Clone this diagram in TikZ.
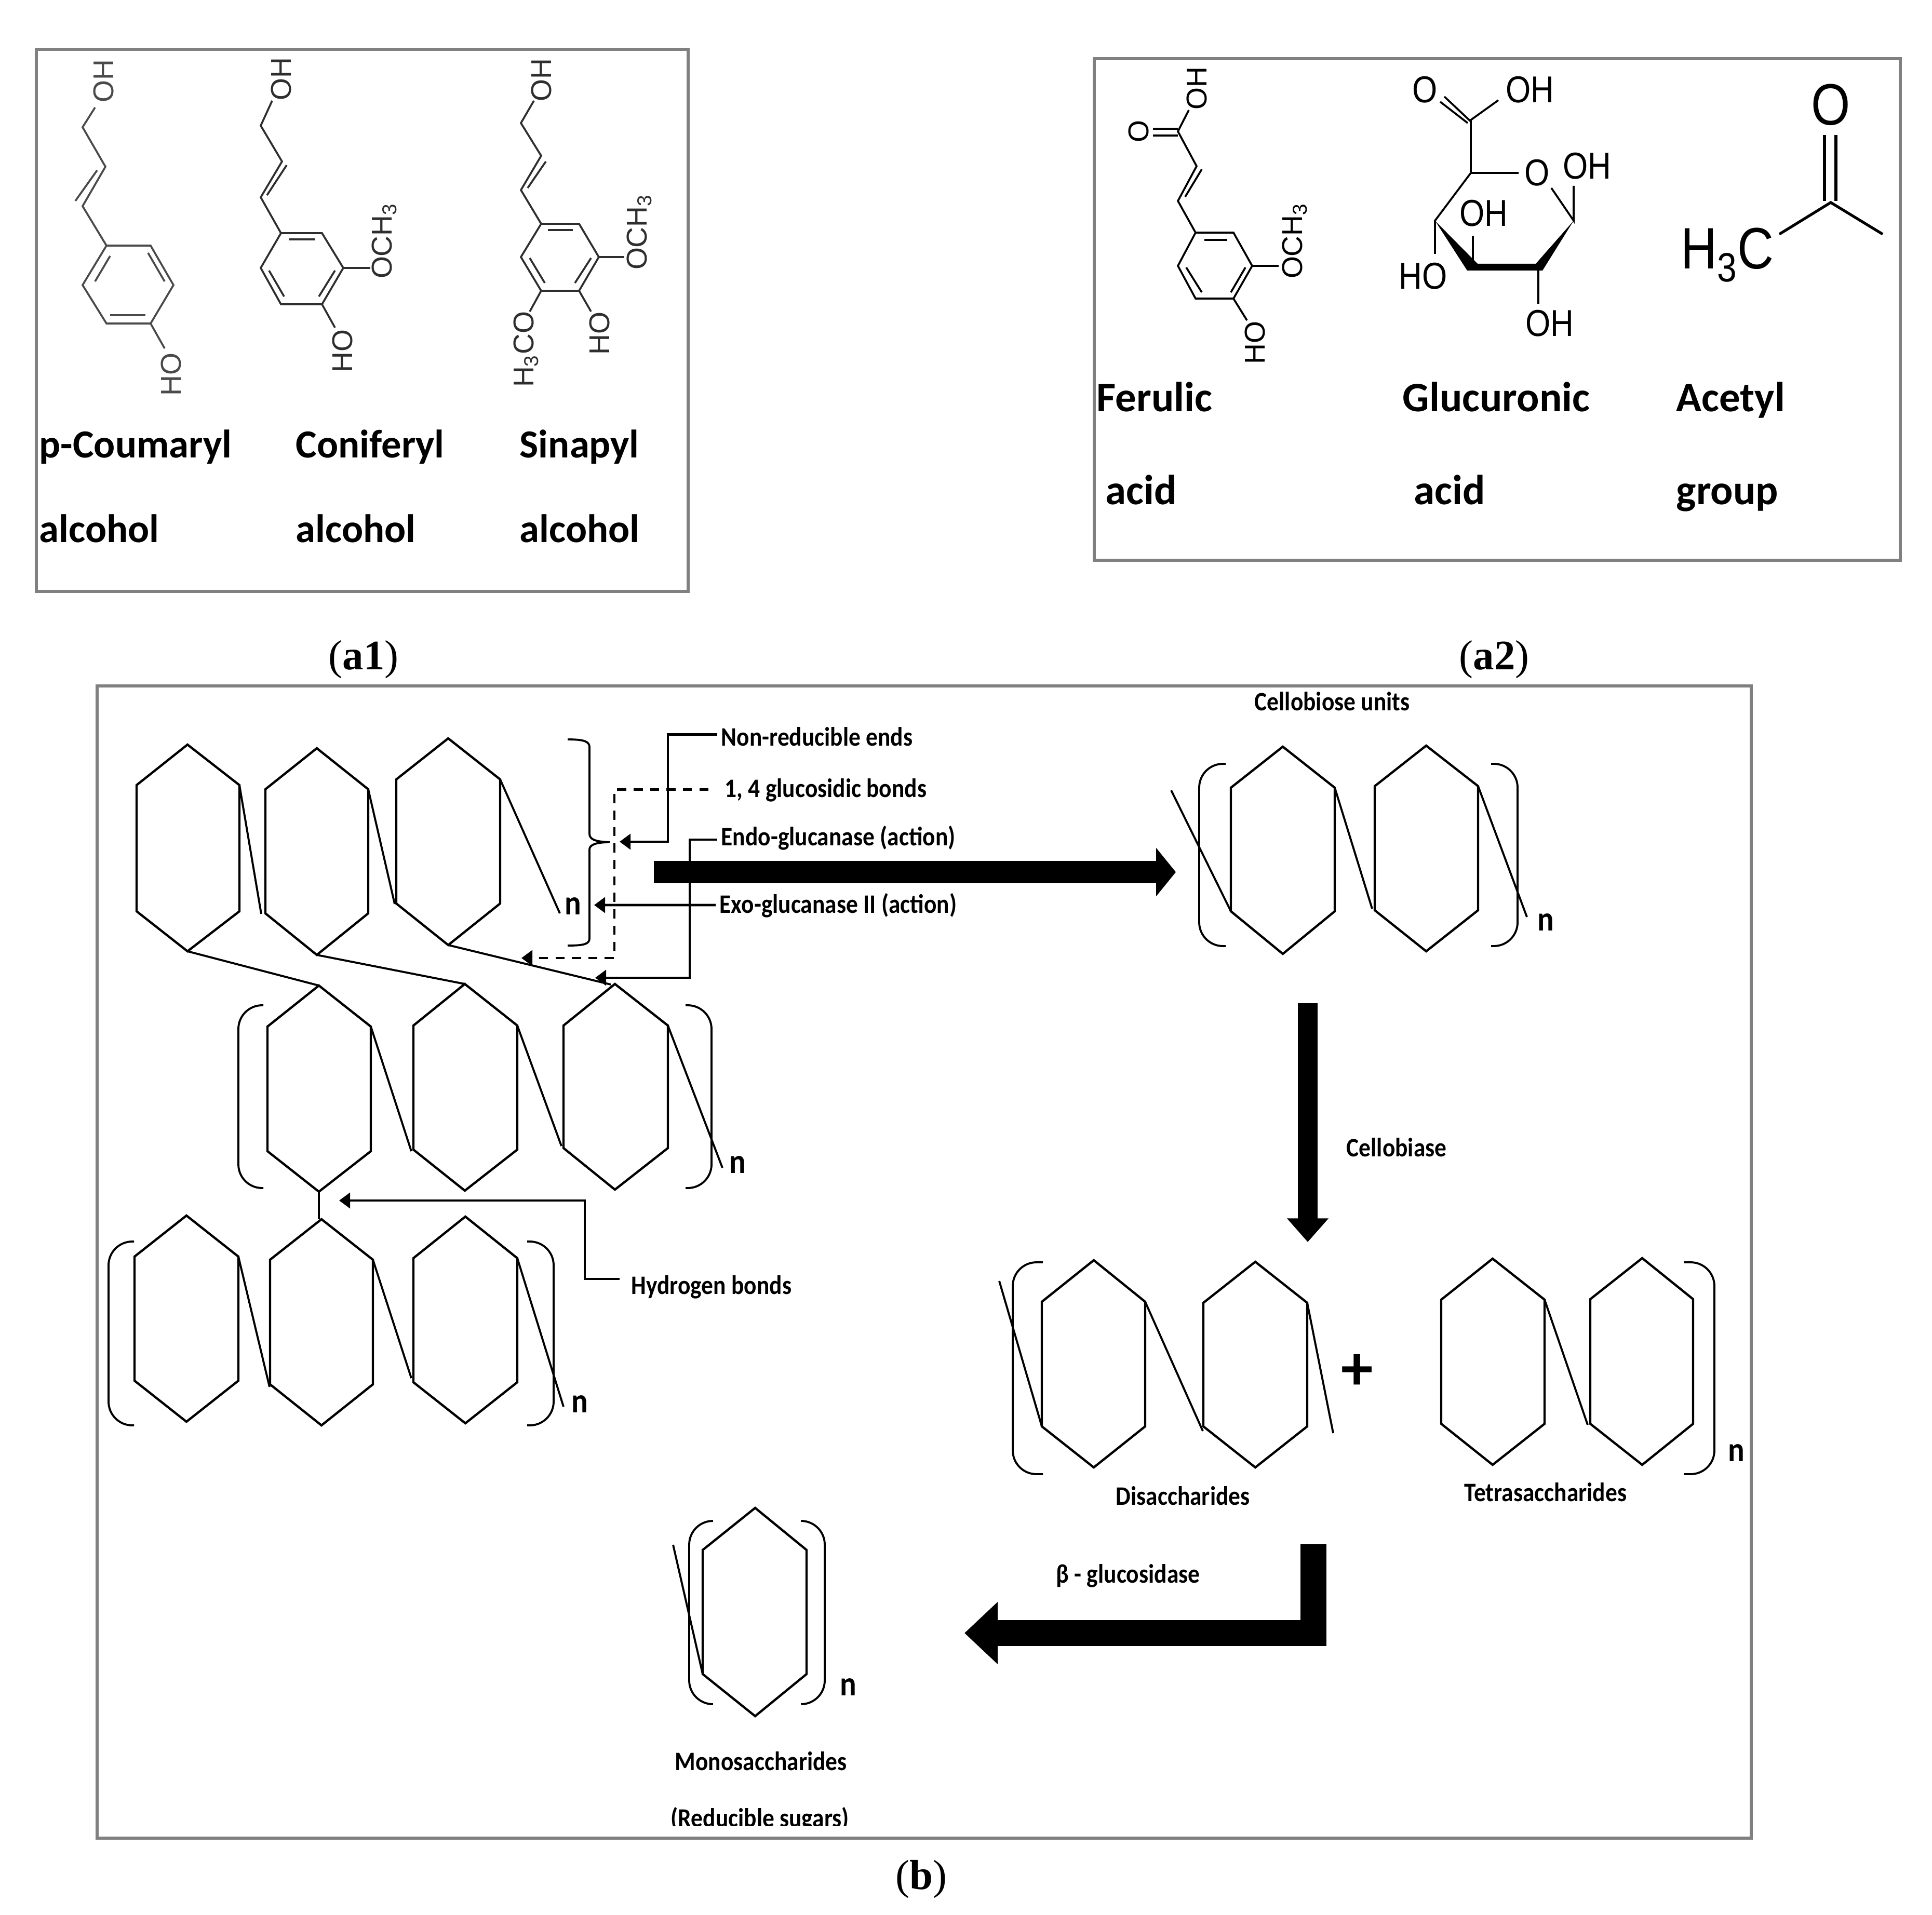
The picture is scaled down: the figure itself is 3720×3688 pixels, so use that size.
\documentclass[tikz,border=0pt]{standalone}
\usepackage{fontspec}
\setmainfont{Liberation Serif}
\newfontfamily\labfont[FakeStretch=.885]{Carlito}
\newfontfamily\bigfont{Carlito}
\newfontfamily\chemfont{Liberation Sans}
\newfontfamily\narrowfont[FakeStretch=.86]{Liberation Sans}
\usetikzlibrary{arrows.meta,positioning,calc}
\definecolor{frameg}{HTML}{808080}
\definecolor{chemg}{HTML}{4A4A4A}
\definecolor{chemd}{HTML}{2E2E2E}
\tikzset{frame/.style={draw=frameg,line width=1.6pt},
  ring/.style={draw=black,line width=1.25pt,line join=miter},
  link/.style={draw=black,line width=1.1pt},
  brack/.style={draw=black,line width=1.1pt,rounded corners=13pt},
  bond/.style={line width=1.05pt,line join=miter},
  lead/.style={draw=black,line width=1.3pt,-{Triangle[length=6pt,width=8.5pt]}},
  lab/.style={anchor=base west,inner xsep=2pt,inner ysep=0pt,text height=12pt,text depth=1pt,
    font=\labfont\bfseries\fontsize{14.6}{17}\selectfont},
  biglab/.style={anchor=base west,inner sep=0pt,font=\bigfont\bfseries\fontsize{21.8}{25}\selectfont},
  wlab/.style={biglab,font=\bigfont\bfseries\fontsize{23}{27}\selectfont},
  nlab/.style={inner sep=0pt,font=\labfont\bfseries\fontsize{19}{21}\selectfont},
  chem/.style={rotate=90,inner sep=0pt,font=\chemfont\fontsize{15.7}{18}\selectfont},
  gluc/.style={inner sep=0pt,font=\narrowfont\fontsize{20.5}{24}\selectfont},
  acet/.style={inner sep=0pt,font=\narrowfont\fontsize{32}{36}\selectfont},
  caplab/.style={inner sep=0pt,font=\fontsize{23}{27}\selectfont}}
\begin{document}
\begin{tikzpicture}[x=0.01cm,y=-0.01cm]
\useasboundingbox (0,0) rectangle (3720,3688);
% panel frames
\draw[frame] (70,95) rectangle (1325,1139);
\draw[frame] (2107,113) rectangle (3659,1079);
\draw[frame] (187,1321) rectangle (3372,3540);
% a1, first alcohol
\begin{scope}[chemg]
\draw[bond] (183,207) -- (159,245) -- (203,321) -- (159,397) -- (205,473) -- (290,473) -- (334,549) -- (290,623) -- (205,623) -- (159,549) -- (205,473);
\draw[bond] (145,387) -- (187,328);
\draw[bond] (183,542) -- (212,493);
\draw[bond] (285,487) -- (317,542);
\draw[bond] (212,607) -- (280,607);
\draw[bond] (290,623) -- (317,671);
\node[chem,text=chemg] (oha) at (199,156) {OH};
\node[chem,text=chemg] (hoa) at (329,721) {HO};
\end{scope}
% a1, second alcohol
\begin{scope}[chemd]
\draw[bond] (524,194) -- (502,242) -- (543,311) -- (502,380) -- (541,449) -- (620,449) -- (661,516) -- (620,586) -- (541,586) -- (502,516) -- (541,449);
\draw[bond] (552,318) -- (514,376);
\draw[bond] (556,461) -- (607,461);
\draw[bond] (614,571) -- (645,521);
\draw[bond] (518,521) -- (547,571);
\draw[bond] (661,516) -- (713,516);
\draw[bond] (620,586) -- (645,631);
\node[chem,text=chemd] (ohb) at (541,152) {OH};
\node[chem,text=chemd] (ocha) at (740,464) {OCH\textsubscript{3}};
\node[chem,text=chemd] (hob) at (659,676) {HO};
\end{scope}
% a1, third alcohol
\begin{scope}[chemd]
\draw[bond] (1028,194) -- (1003,237) -- (1042,300) -- (1003,366) -- (1042,431) -- (1115,431) -- (1153,495) -- (1115,560) -- (1042,560) -- (1003,495) -- (1042,431);
\draw[bond] (1051,311) -- (1016,362);
\draw[bond] (1055,443) -- (1103,443);
\draw[bond] (1107,545) -- (1138,497);
\draw[bond] (1020,497) -- (1049,545);
\draw[bond] (1153,495) -- (1202,495);
\draw[bond] (1042,560) -- (1020,600);
\draw[bond] (1115,560) -- (1138,600);
\node[chem,text=chemd] (ohc) at (1042,154) {OH};
\node[chem,text=chemd] (ochb) at (1231,447) {OCH\textsubscript{3}};
\node[chem,text=chemd] (hthreeco) at (1013,673) {H\textsubscript{3}CO};
\node[chem,text=chemd] (hoc) at (1154,642) {HO};
\end{scope}
\foreach \x/\n/\t in {75/coum/p-Coumaryl,569/coni/Coniferyl,1000/sina/Sinapyl}{
  \node[biglab] (\n) at (\x,881) {\t};
  \node[biglab] (\n alc) at (\x,1044) {alcohol};}
% a2, ferulic acid
\draw[bond] (2289,212) -- (2268,253) -- (2304,320) -- (2268,387) -- (2302,448) -- (2375,448) -- (2411,512) -- (2375,575) -- (2302,575) -- (2268,512) -- (2302,448);
\draw[bond] (2220,248) -- (2268,248);
\draw[bond] (2220,261) -- (2268,261);
\draw[bond] (2314,326) -- (2282,379);
\draw[bond] (2319,462) -- (2363,462);
\draw[bond] (2370,563) -- (2398,515);
\draw[bond] (2284,515) -- (2314,563);
\draw[bond] (2411,512) -- (2462,512);
\draw[bond] (2375,575) -- (2401,617);
\node[chem] (ohf) at (2304,170) {OH};
\node[chem] (of) at (2192,253) {O};
\node[chem] (ochf) at (2493,464) {OCH\textsubscript{3}};
\node[chem] (hof) at (2416,660) {HO};
% a2, glucuronic acid
\draw[bond] (2781,186) -- (2832,234);
\draw[bond] (2773,196) -- (2826,237);
\draw[bond] (2885,193) -- (2832,231) -- (2832,333) -- (2924,333);
\draw[bond] (2832,333) -- (2763,425) -- (2763,489);
\draw[bond] (2987,362) -- (3030,425) -- (3030,358);
\draw[bond] (2836,518) -- (2836,454);
\draw[bond] (2962,518) -- (2962,585);
\fill (2763,425) -- (2825,521) -- (2970,521) -- (3030,425) -- (2957,508) -- (2845,508) -- cycle;
\foreach \n/\x/\y/\t in {gotop/2744/173/O,ghtop/2946/173/OH,gring/2960/333/O,ghring/3056/320/OH,ghmid/2857/411/OH,gho/2740/532/HO,ghbot/2984/623/OH}{
  \node[gluc] (\n) at (\x,\y) {\t};}
% a2, acetyl group
\draw[line width=1.5pt] (3513,260) -- (3513,387);
\draw[line width=1.5pt] (3535,260) -- (3535,387);
\draw[line width=1.5pt] (3426,451) -- (3525,390) -- (3625,451);
\node[acet] (oac) at (3525,202) {O};
\node[acet,anchor=base east] (hthreec) at (3416,518) {H\textsubscript{3}C};
\foreach \x/\n/\t/\y/\s/\r in {2111/feru/Ferulic/2128/acid/fa,2700/gluc/Glucuronic/2722/acid/ga,3227/acety/Acetyl/3227/group/ag}{
  \node[wlab] (\n) at (\x,792) {\t};
  \node[wlab] (\r) at (\y,971) {\s};}
% captions
\node[caplab] (capaone) at (700,1270) {(\textbf{a1})};
\node[caplab] (capatwo) at (2877,1270) {(\textbf{a2})};
\node[caplab] (capb) at (1774,3619) {(\textbf{b})};
% sugar rings
\foreach \n/\l/\m/\r/\t/\a/\b/\o in {
  ra/263/361/461/1434/1512/1755/1832, rb/511/610/709/1441/1520/1759/1839, rc/763/863/963/1422/1501/1740/1820,
  rd/515/614/714/1898/1977/2217/2295, re/796/895/996/1895/1975/2214/2293, rf/1085/1184/1286/1895/1975/2211/2291,
  rg/259/359/459/2341/2420/2659/2738, rh/520/619/718/2348/2426/2666/2745, ri/796/896/996/2343/2423/2662/2741,
  rj/2370/2470/2570/1438/1517/1755/1837, rk/2647/2746/2846/1436/1514/1753/1832,
  rl/2006/2106/2205/2427/2507/2747/2826, rm/2317/2417/2517/2430/2509/2747/2826,
  rn/2775/2874/2974/2424/2503/2742/2821, ro/3062/3162/3260/2423/2502/2742/2821,
  rp/1353/1454/1553/2904/2985/3224/3305}{
  \coordinate (\n-t) at (\m,\t);
  \coordinate (\n-ur) at (\r,\a);
  \coordinate (\n-lr) at (\r,\b);
  \coordinate (\n-b) at (\m,\o);
  \coordinate (\n-ll) at (\l,\b);
  \coordinate (\n-ul) at (\l,\a);
  \draw[ring] (\n-t) -- (\n-ur) -- (\n-lr) -- (\n-b) -- (\n-ll) -- (\n-ul) -- cycle;}
% glycosidic links
\draw[link] (ra-ur) -- ++(42,248);
\draw[link] (rb-ur) -- ++(51,221);
\draw[link] (rc-ur) -- ++(115,258);
\draw[link] (ra-b) -- (rd-t);
\draw[link] (rb-b) -- (re-t);
\draw[link] (rc-b) -- ++(313,76);
\draw[link] (rd-ur) -- ++(78,240);
\draw[link] (re-ur) -- ++(85,232);
\draw[link] (rf-ur) -- ++(105,274);
\draw[link] (rd-b) -- ++(0,53);
\draw[link] (rg-ur) -- ++(60,251);
\draw[link] (rh-ur) -- ++(74,228);
\draw[link] (ri-ur) -- ++(89,286);
\draw[link] (rj-ll) -- ++(-115,-233);
\draw[link] (rj-ur) -- ++(72,233);
\draw[link] (rk-ur) -- ++(94,252);
\draw[link] (rl-ll) -- ++(-82,-280);
\draw[link] (rl-ur) -- ++(111,249);
\draw[link] (rm-ur) -- ++(50,251);
\draw[link] (rn-ur) -- ++(83,241);
\draw[link] (rp-ll) -- ++(-57,-249);
% brackets
\foreach \e/\v/\t/\o in {507/459/1936/2288,1320/1370/1936/2288,258/209/2391/2745,1015/1066/2391/2745,
  2360/2309/1471/1822,2871/2922/1471/1822,2008/1950/2431/2839,3242/3301/2431/2839,
  1370/1327/2929/3282,1545/1588/2929/3282}{
  \draw[brack] (\e,\t) -- (\v,\t) -- (\v,\o) -- (\e,\o);}
\draw[link] (1093,1424) .. controls (1125,1424) and (1135,1428) .. (1135,1439) -- (1135,1606) .. controls (1135,1618) and (1150,1621) .. (1174,1622) .. controls (1150,1622) and (1135,1626) .. (1135,1636) -- (1135,1807) .. controls (1135,1818) and (1125,1821) .. (1093,1821);
\foreach \n/\x/\y in {na/1103/1745,nb/1420/2243,nc/1116/2704,nd/2976/1776,ne/3343/2798,nf/1633/3249}{
  \node[nlab] (\n) at (\x,\y) {n};}
% enzyme labels and leaders
\node[lab] (nonred) at (1381,1436) {Non-reducible ends};
\node[lab] (glucos) at (1388,1535) {1, 4 glucosidic bonds};
\node[lab] (endo) at (1381,1628) {Endo-glucanase (action)};
\node[lab] (exo) at (1378,1758) {Exo-glucanase II (action)};
\node[lab] (hydro) at (1208,2492) {Hydrogen bonds};
\coordinate (nonredtip) at (1193,1621);
\coordinate (glucostip) at (1004,1845);
\coordinate (endotip) at (1146,1883);
\coordinate (exotip) at (1144,1743);
\coordinate (hydrotip) at (653,2312);
\draw[lead] ([yshift=.02cm]nonred.west) -| (1286,1621) -- (nonredtip);
\draw[lead,dash pattern=on 5pt off 4pt,shorten <=6.8pt] ([yshift=-.05cm]glucos.west) -| (1183,1845) -- (glucostip);
\draw[lead] ([yshift=-.083cm]endo.west) -| (1328,1883) -- (endotip);
\draw[lead] ([yshift=-.043cm]exo.west) -- (exotip);
\draw[lead,shorten <=4.3pt] ([yshift=.097cm]hydro.west) -| (1126,2312) -- (hydrotip);
% large process arrows
\coordinate (stepa) at (1259,1679.5);
\coordinate (stepatip) at (2264,1679.5);
\coordinate (stepb) at (2518,1932);
\coordinate (stepbtip) at (2518,2392);
\coordinate (stepc) at (2529,2974);
\coordinate (stepctip) at (1857,3145);
\draw[line width=12.2pt,-{Triangle[length=10.8pt,width=26pt]}] (stepa) -- (stepatip);
\draw[line width=11pt,-{Triangle[length=13pt,width=22pt]}] (stepb) -- (stepbtip);
\draw[line width=14pt,line join=miter,-{Triangle[length=18.2pt,width=33pt]}] (stepc) |- (stepctip);
% product labels
\node[lab] (cellou) at (2408,1368) {Cellobiose units};
\node[lab] (cellob) at (2585,2227) {Cellobiase};
\node[lab] (disac) at (2141,2898) {Disaccharides};
\node[lab] (tetra) at (2812,2891) {Tetrasaccharides};
\node[lab] (betag) at (2026,3048) {β - glucosidase};
\node[lab] (mono) at (1292,3409) {Monosaccharides};
\begin{scope}
\clip (1200,3440) rectangle (1800,3516);
\node[lab] (redu) at (1284,3518) {(Reducible sugars)};
\end{scope}
\node[inner sep=0pt,font=\bigfont\bfseries\fontsize{35}{38}\selectfont] (plus) at (2613,2642) {+};
\end{tikzpicture}
\end{document}
